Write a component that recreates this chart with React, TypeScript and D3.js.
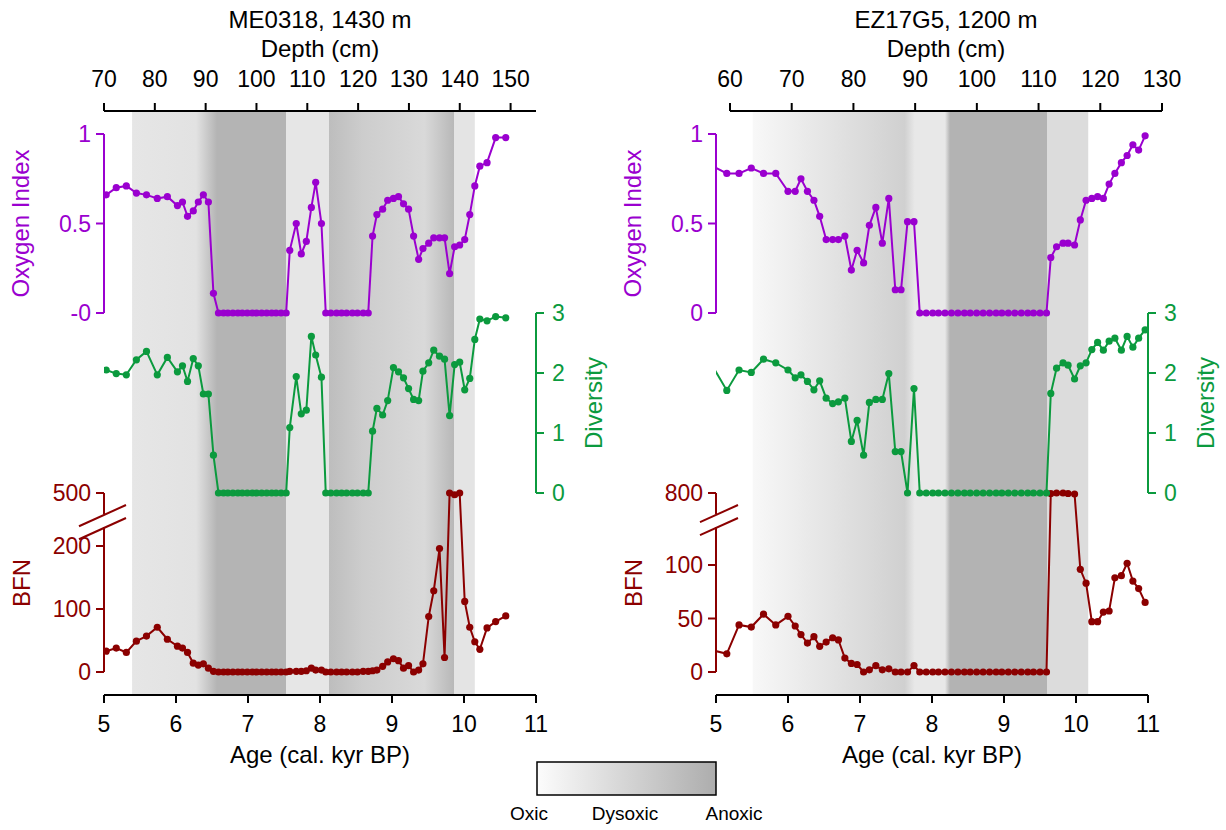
import React from 'react';
import * as d3 from 'd3';

// ME0318, 1430 m -- sample ages (cal. kyr BP) and proxies
const meAge = [
  5.03, 5.17, 5.31, 5.45, 5.59, 5.74, 5.88, 6.02, 6.09, 6.16, 6.24, 6.31, 6.38, 6.45, 6.52,
  6.59, 6.66, 6.72, 6.79, 6.86, 6.92, 6.99, 7.06, 7.12, 7.19, 7.26, 7.33, 7.39, 7.46, 7.53,
  7.58, 7.67, 7.74, 7.81, 7.88, 7.94, 8.02,
  8.08, 8.15, 8.23, 8.3, 8.37, 8.45, 8.52, 8.6, 8.67,
  8.73, 8.79, 8.87, 8.94, 9.02, 9.09, 9.16, 9.23, 9.3, 9.37, 9.43, 9.51, 9.58, 9.66, 9.73,
  9.8, 9.87, 9.94, 10.01, 10.08, 10.15, 10.22, 10.32, 10.44, 10.58,
];
const meOxygen = [
  0.66, 0.7, 0.71, 0.67, 0.66, 0.64, 0.65, 0.6, 0.62, 0.54, 0.57, 0.62, 0.66, 0.62, 0.11,
  0, 0, 0, 0, 0, 0, 0, 0, 0, 0, 0, 0, 0, 0, 0,
  0.35, 0.5, 0.33, 0.4, 0.59, 0.73, 0.5,
  0, 0, 0, 0, 0, 0, 0, 0, 0,
  0.43, 0.55, 0.58, 0.63, 0.64, 0.65, 0.61, 0.58, 0.43, 0.3, 0.36, 0.39, 0.42, 0.42, 0.42,
  0.22, 0.37, 0.38, 0.41, 0.55, 0.71, 0.82, 0.84, 0.98, 0.98,
];
const meDiversity = [
  2.05, 1.99, 1.97, 2.22, 2.36, 1.97, 2.26, 2.02, 2.12, 1.86, 2.24, 2.12, 1.65, 1.65, 0.63,
  0, 0, 0, 0, 0, 0, 0, 0, 0, 0, 0, 0, 0, 0, 0,
  1.09, 1.94, 1.32, 1.38, 2.61, 2.3, 1.93,
  0, 0, 0, 0, 0, 0, 0, 0, 0,
  1.03, 1.41, 1.3, 1.54, 2.09, 2.02, 1.92, 1.74, 1.56, 1.54, 2.03, 2.17, 2.38, 2.28, 2.23,
  1.29, 2.14, 2.18, 1.72, 1.91, 2.56, 2.9, 2.87, 2.94, 2.92,
];
const meBfn = [
  33, 38, 31, 49, 57, 71, 52, 41, 38, 31, 14, 11, 13, 6, 1,
  0, 0, 0, 0, 0, 0, 0, 0, 0, 0, 0, 0, 0, 0, 0,
  1, 1, 1, 2, 6, 3, 3,
  0, 0, 0, 0, 0, 0, 0, 1, 1,
  2, 3, 9, 16, 21, 18, 6, 10, 0, 3, 13, 88, 129, 196, 23,
  500, 490, 500, 112, 71, 48, 36, 70, 80, 89,
];

// EZ17G5, 1200 m
const ezAge = [
  4.91, 5.15, 5.32, 5.49, 5.66, 5.83, 6.0, 6.1, 6.18, 6.27, 6.36, 6.44, 6.53, 6.62, 6.7,
  6.79, 6.88, 6.96, 7.05, 7.13, 7.22, 7.31, 7.4, 7.49, 7.57, 7.66, 7.75,
  7.83, 7.92, 8.01, 8.09, 8.18, 8.27, 8.36, 8.45, 8.53, 8.62, 8.71, 8.8, 8.89, 8.97, 9.06,
  9.15, 9.24, 9.33, 9.41, 9.5, 9.59,
  9.65, 9.73, 9.82, 9.89, 9.98, 10.06, 10.14, 10.22, 10.3, 10.38, 10.46, 10.54, 10.63,
  10.71, 10.79, 10.87, 10.96,
];
const ezOxygen = [
  0.83, 0.78, 0.78, 0.81, 0.78, 0.78, 0.68, 0.68, 0.75, 0.68, 0.63, 0.54, 0.41, 0.41, 0.41,
  0.43, 0.24, 0.35, 0.28, 0.49, 0.59, 0.39, 0.64, 0.13, 0.13, 0.51, 0.51,
  0, 0, 0, 0, 0, 0, 0, 0, 0, 0, 0, 0, 0, 0, 0, 0, 0, 0, 0, 0, 0,
  0.31, 0.37, 0.39, 0.39, 0.38, 0.52, 0.63, 0.64, 0.65, 0.64, 0.72, 0.78, 0.84,
  0.88, 0.94, 0.91, 0.99,
];
const ezDiversity = [
  2.2, 1.71, 2.05, 2.01, 2.23, 2.17, 2.05, 1.92, 1.97, 1.86, 1.72, 1.87, 1.58, 1.49, 1.52,
  1.58, 0.86, 1.21, 0.63, 1.51, 1.56, 1.56, 1.99, 0.69, 0.69, 0, 1.74,
  0, 0, 0, 0, 0, 0, 0, 0, 0, 0, 0, 0, 0, 0, 0, 0, 0, 0, 0, 0, 0,
  1.66, 2.08, 2.17, 2.13, 1.9, 2.12, 2.17, 2.39, 2.51, 2.38, 2.53, 2.58, 2.38,
  2.61, 2.43, 2.58, 2.72,
];
const ezBfn = [
  21, 17, 44, 42, 54, 44, 52, 43, 35, 27, 33, 24, 28, 32, 30,
  13, 8, 7, 0, 2, 6, 2, 3, 0, 0, 0, 6,
  0, 0, 0, 0, 0, 0, 0, 0, 0, 0, 0, 0, 0, 0, 0, 0, 0, 0, 0, 0, 0,
  795, 800, 800, 795, 790, 96, 83, 47, 47, 56, 57, 88, 90,
  117, 85, 78, 65,
];

const ageTicks = [5, 6, 7, 8, 9, 10, 11];
const meDepthTicks = [70, 80, 90, 100, 110, 120, 130, 140, 150];
const ezDepthTicks = [60, 70, 80, 90, 100, 110, 120, 130];
const oxygenTicks = [1, 0.5, 0];
const meOxygenLabels = ['1', '0.5', '-0'];
const ezOxygenLabels = ['1', '0.5', '0'];
const diversityTicks = [0, 1, 2, 3];
const meBfnTicks = [0, 100, 200, 500];
const ezBfnTicks = [0, 50, 100, 800];

// redox shading: age of each gradient stop and its grey
const meZoneAges = [5.39, 6.28, 6.57, 7.53, 7.53, 8.12, 8.12, 8.6, 9.45, 9.86, 9.86, 10.15];
const meZoneGreys = ['#e6e6e6', '#e2e2e2', '#b4b4b4', '#b4b4b4', '#e6e6e6', '#e6e6e6',
  '#bdbdbd', '#cdcdcd', '#d9d9d9', '#b8b8b8', '#e4e4e4', '#e4e4e4'];
const ezZoneAges = [5.51, 7.62, 7.76, 8.18, 8.25, 9.6, 9.6, 10.17];
const ezZoneGreys = ['#f8f8f8', '#d0d0d0', '#e8e8e8', '#e8e8e8', '#b3b3b3', '#b3b3b3',
  '#dcdcdc', '#dcdcdc'];

const PURPLE = '#9a00cf';
const GREEN = '#0b9a3e';
const RED = '#8b0000';
const FONT = 'Liberation Sans, Arial, sans-serif';

const TOP = 111;
const BOTTOM = 695;

function Series({ x, y, age, values, color, clip }) {
  const line = d3.line<number>()
    .x((d, i) => x(age[i]))
    .y((d) => y(d));
  return (
    <g clipPath={`url(#${clip})`}>
      <path d={line(values) || ''} fill="none" stroke={color} strokeWidth={2} />
      {values.map((v, i) => (
        <circle key={i} cx={x(age[i])} cy={y(v)} r={3.6} fill={color} />
      ))}
    </g>
  );
}

function Panel(props) {
  const {
    id, left, title, depthTicks, depthDomain, depthRange, age, oxygen, diversity, bfn,
    bfnTicks, bfnDomain, bfnRange, oxyLabels, zoneAges, zoneGreys, breakReach,
  } = props;
  const x = d3.scaleLinear().domain([5, 11]).range([left, left + 432]);
  const xDepth = d3.scaleLinear().domain(depthDomain).range(depthRange);
  const yO = d3.scaleLinear().domain([0, 1]).range([313, 134]);
  const yD = d3.scaleLinear().domain([0, 3]).range([493, 313]);
  const yB = d3.scaleLinear().domain(bfnDomain).range(bfnRange);
  const x0 = x(5);
  const x1 = x(11);
  const z0 = x(zoneAges[0]);
  const z1 = x(zoneAges[zoneAges.length - 1]);
  const mid = (depthRange[0] + depthRange[1]) / 2;
  const bfnTop = yB(bfnDomain[bfnDomain.length - 1]);

  return (
    <g fontFamily={FONT}>
      <defs>
        <linearGradient id={`zone-${id}`} gradientUnits="userSpaceOnUse" x1={z0} x2={z1} y1={0} y2={0}>
          {zoneAges.map((a, i) => (
            <stop key={i} offset={(x(a) - z0) / (z1 - z0)} stopColor={zoneGreys[i]} />
          ))}
        </linearGradient>
        <clipPath id={`clip-${id}`}>
          <rect x={x0} y={TOP - 20} width={x1 - x0 + 20} height={BOTTOM - TOP + 40} />
        </clipPath>
      </defs>
      <rect x={z0} y={TOP} width={z1 - z0} height={BOTTOM - TOP} fill={`url(#zone-${id})`} />

      {/* depth axis on top */}
      <text x={mid} y={28} textAnchor="middle" fontSize={24}>{title}</text>
      <text x={mid} y={57} textAnchor="middle" fontSize={24}>Depth (cm)</text>
      <line x1={depthRange[0]} x2={depthRange[1]} y1={TOP} y2={TOP} stroke="#000" strokeWidth={2} />
      {depthTicks.map((t) => (
        <g key={t}>
          <line x1={xDepth(t)} x2={xDepth(t)} y1={TOP} y2={TOP - 8} stroke="#000" strokeWidth={2} />
          <text x={xDepth(t)} y={87} textAnchor="middle" fontSize={23}>{t}</text>
        </g>
      ))}

      {/* age axis at the bottom */}
      <line x1={x0} x2={x1} y1={BOTTOM} y2={BOTTOM} stroke="#000" strokeWidth={2} />
      {ageTicks.map((t) => (
        <g key={t}>
          <line x1={x(t)} x2={x(t)} y1={BOTTOM} y2={BOTTOM + 8} stroke="#000" strokeWidth={2} />
          <text x={x(t)} y={732} textAnchor="middle" fontSize={23}>{t}</text>
        </g>
      ))}
      <text x={(x0 + x1) / 2} y={763} textAnchor="middle" fontSize={24}>Age (cal. kyr BP)</text>

      {/* oxygen index axis */}
      <g fill={PURPLE} stroke={PURPLE}>
        <line x1={x0} x2={x0} y1={yO(1)} y2={yO(0)} strokeWidth={2} />
        {oxygenTicks.map((t, i) => (
          <g key={t}>
            <line x1={x0 - 8} x2={x0} y1={yO(t)} y2={yO(t)} strokeWidth={2} />
            <text x={x0 - 13} y={yO(t) + 8} textAnchor="end" fontSize={23} stroke="none">{oxyLabels[i]}</text>
          </g>
        ))}
        <text transform={`translate(${x0 - 75},${yO(0.5)}) rotate(-90)`} textAnchor="middle"
          fontSize={24} stroke="none">Oxygen Index</text>
      </g>

      {/* diversity axis */}
      <g fill={GREEN} stroke={GREEN}>
        <line x1={x1} x2={x1} y1={yD(3)} y2={yD(0)} strokeWidth={2} />
        {diversityTicks.map((t) => (
          <g key={t}>
            <line x1={x1} x2={x1 + 8} y1={yD(t)} y2={yD(t)} strokeWidth={2} />
            <text x={x1 + 16} y={yD(t) + 8} fontSize={23} stroke="none">{t}</text>
          </g>
        ))}
        <text transform={`translate(${x1 + 66},${yD(1.5)}) rotate(-90)`} textAnchor="middle"
          fontSize={24} stroke="none">Diversity</text>
      </g>

      {/* BFN axis with break */}
      <g fill={RED} stroke={RED}>
        <line x1={x0} x2={x0} y1={bfnTop} y2={514} strokeWidth={2} />
        <line x1={x0} x2={x0} y1={527} y2={yB(0)} strokeWidth={2} />
        <line x1={x0 - breakReach} x2={x0 + 22} y1={515 + breakReach * 0.45} y2={505} strokeWidth={2} />
        <line x1={x0 - breakReach} x2={x0 + 22} y1={528 + breakReach * 0.45} y2={518} strokeWidth={2} />
        {bfnTicks.map((t) => (
          <g key={t}>
            <line x1={x0 - 8} x2={x0} y1={yB(t)} y2={yB(t)} strokeWidth={2} />
            <text x={x0 - 13} y={yB(t) + 8} textAnchor="end" fontSize={23} stroke="none">{t}</text>
          </g>
        ))}
        <text transform={`translate(${x0 - 74},${583}) rotate(-90)`} textAnchor="middle"
          fontSize={24} stroke="none">BFN</text>
      </g>

      <Series x={x} y={yB} age={age} values={bfn} color={RED} clip={`clip-${id}`} />
      <Series x={x} y={yD} age={age} values={diversity} color={GREEN} clip={`clip-${id}`} />
      <Series x={x} y={yO} age={age} values={oxygen} color={PURPLE} clip={`clip-${id}`} />
    </g>
  );
}

export default function App() {
  return (
    <svg width={1226} height={830} style={{ position: 'absolute', left: 0, top: 0, background: '#fff' }}>
      <Panel id="me" left={104} title="ME0318, 1430 m" depthTicks={meDepthTicks}
        depthDomain={[70, 155]} depthRange={[104, 536]} age={meAge} oxygen={meOxygen}
        diversity={meDiversity} bfn={meBfn} bfnTicks={meBfnTicks} bfnDomain={[0, 200, 500]}
        bfnRange={[672, 546, 493]} oxyLabels={meOxygenLabels} zoneAges={meZoneAges}
        zoneGreys={meZoneGreys} breakReach={25} />
      <Panel id="ez" left={716} title="EZ17G5, 1200 m" depthTicks={ezDepthTicks}
        depthDomain={[60, 130]} depthRange={[730, 1162]} age={ezAge} oxygen={ezOxygen}
        diversity={ezDiversity} bfn={ezBfn} bfnTicks={ezBfnTicks} bfnDomain={[0, 100, 800]}
        bfnRange={[672, 565, 493]} oxyLabels={ezOxygenLabels} zoneAges={ezZoneAges}
        zoneGreys={ezZoneGreys} breakReach={16} />

      {/* redox legend */}
      <defs>
        <linearGradient id="legend-grad" x1={0} x2={1} y1={0} y2={0}>
          <stop offset={0} stopColor="#fcfcfc" />
          <stop offset={1} stopColor="#adadad" />
        </linearGradient>
      </defs>
      <rect x={537} y={762} width={179} height={33} fill="url(#legend-grad)" stroke="#000" strokeWidth={1.5} />
      <g fontFamily={FONT} fontSize={19} textAnchor="middle">
        <text x={529} y={820}>Oxic</text>
        <text x={625} y={820}>Dysoxic</text>
        <text x={734} y={820}>Anoxic</text>
      </g>
    </svg>
  );
}
